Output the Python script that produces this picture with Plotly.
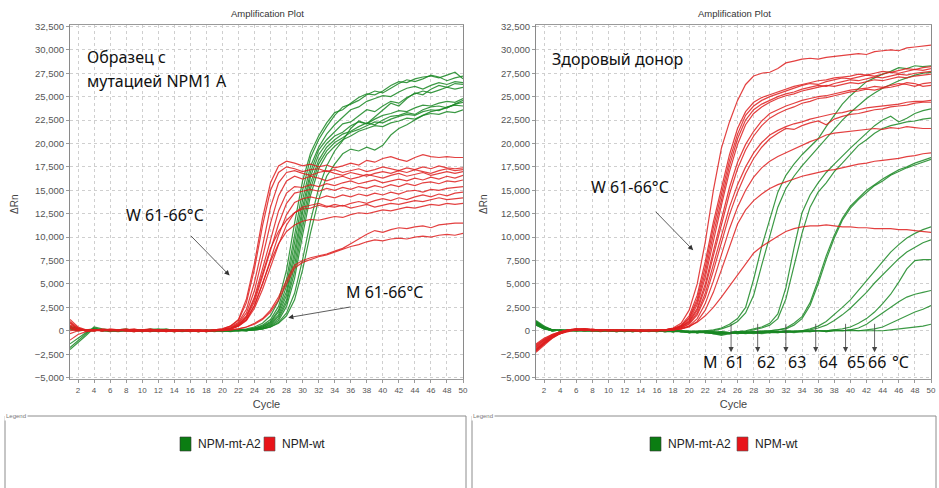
import plotly.graph_objects as go

# ---------------- data (ΔRn, thousands) ----------------
cycles = list(range(1, 51))

# Left panel: sample with NPM1 A mutation
left_mutant = [
    [-2.0, -1.3, -0.5, 0.3, 0.1, 0.0, 0.1, 0.2, 0.0, -0.1, 0.1, 0.2, 0.1, 0.0, -0.1, 0.0, -0.1, 0.0, 0.1, 0.0, 0.0, 0.1, 0.2,
     0.4, 0.8, 1.6, 3.2, 6.5, 11.5, 16.0, 19.0, 20.8, 22.2, 23.3, 23.6, 24.3, 24.9, 25.3, 25.2, 25.6, 26.2, 26.6, 26.5, 26.9, 27.1, 27.2, 27.0, 27.3, 27.6, 26.9],
    [-1.8, -1.1, -0.3, 0.4, 0.2, 0.1, 0.0, 0.1, 0.1, 0.0, 0.2, 0.1, 0.0, -0.1, 0.0, 0.1, 0.0, -0.1, 0.0, 0.1, 0.0, 0.1, 0.1,
     0.3, 0.6, 1.2, 2.6, 5.5, 10.2, 15.0, 18.5, 20.4, 21.8, 23.0, 23.9, 24.2, 24.6, 25.2, 25.6, 25.4, 25.9, 26.4, 26.8, 26.6, 26.9, 27.3, 27.1, 26.7, 27.0, 27.2],
    [-1.4, -0.8, -0.2, 0.2, 0.1, 0.0, 0.1, 0.0, -0.1, 0.1, 0.0, 0.1, 0.2, 0.0, 0.0, -0.1, 0.1, 0.0, 0.0, 0.0, 0.1, 0.0, 0.1,
     0.3, 0.5, 1.0, 2.2, 4.8, 9.2, 14.0, 17.6, 19.6, 21.0, 22.0, 22.8, 23.6, 23.9, 24.5, 24.8, 25.1, 25.0, 25.5, 25.9, 26.1, 25.8, 26.2, 26.5, 26.3, 26.6, 26.5],
    [0.4, 0.2, 0.1, 0.2, 0.0, 0.1, 0.0, 0.1, 0.0, 0.0, 0.1, 0.0, 0.1, 0.0, 0.1, 0.0, 0.0, 0.1, 0.0, -0.1, 0.0, 0.0, 0.1,
     0.2, 0.4, 0.9, 2.0, 4.2, 8.5, 13.2, 17.0, 19.3, 20.4, 21.3, 22.1, 22.3, 23.0, 23.6, 23.4, 24.0, 24.5, 24.3, 24.9, 25.3, 25.6, 25.4, 25.7, 26.0, 25.8, 26.0],
    [0.3, 0.1, 0.0, 0.1, 0.1, 0.0, -0.1, 0.0, 0.1, 0.0, 0.0, 0.1, 0.0, -0.1, 0.0, 0.1, 0.0, 0.0, -0.1, 0.0, 0.1, 0.0, 0.0,
     0.2, 0.4, 0.8, 1.7, 3.8, 7.8, 12.6, 16.5, 18.8, 20.0, 20.8, 21.2, 21.9, 22.3, 22.1, 22.6, 23.0, 23.2, 23.5, 23.4, 23.8, 24.1, 24.0, 24.3, 24.5, 24.4, 24.8],
    [0.5, 0.2, 0.0, 0.1, 0.0, 0.1, 0.1, 0.0, 0.0, -0.1, 0.1, 0.0, 0.1, 0.1, 0.0, 0.0, 0.1, -0.1, 0.0, 0.0, 0.0, 0.1, 0.0,
     0.2, 0.3, 0.7, 1.5, 3.3, 7.0, 11.8, 15.8, 18.2, 19.6, 20.4, 21.0, 21.3, 21.8, 22.2, 22.0, 22.5, 22.9, 23.0, 23.3, 23.1, 23.6, 23.9, 24.0, 23.8, 24.2, 24.4],
    [0.2, 0.1, 0.1, 0.0, 0.1, 0.0, 0.0, 0.1, 0.0, 0.1, 0.0, -0.1, 0.0, 0.1, 0.0, 0.1, 0.0, 0.0, 0.1, 0.0, -0.1, 0.0, 0.1,
     0.1, 0.3, 0.6, 1.3, 3.0, 6.3, 11.0, 15.2, 17.8, 19.2, 20.1, 20.6, 21.2, 21.5, 21.9, 22.3, 22.2, 22.6, 22.9, 23.1, 23.0, 23.4, 23.6, 23.5, 23.9, 24.1, 24.0],
    [0.3, 0.2, 0.0, 0.0, 0.1, 0.1, 0.0, 0.0, 0.1, 0.0, -0.1, 0.0, 0.0, 0.1, 0.1, 0.0, 0.0, 0.1, 0.0, 0.1, 0.0, 0.0, 0.0,
     0.1, 0.2, 0.5, 1.1, 2.6, 5.6, 10.2, 14.5, 17.3, 18.8, 19.7, 20.4, 20.8, 21.3, 21.6, 21.9, 21.8, 22.2, 22.4, 22.7, 22.6, 23.0, 23.2, 23.1, 23.4, 23.3, 23.6],
    [0.4, 0.1, 0.0, 0.1, 0.0, 0.0, 0.1, 0.1, 0.0, 0.0, 0.1, 0.0, 0.0, 0.0, 0.1, 0.0, -0.1, 0.0, 0.0, 0.1, 0.0, 0.0, 0.1,
     0.1, 0.2, 0.4, 0.8, 1.6, 3.3, 6.5, 10.5, 14.0, 16.5, 17.8, 18.9, 19.4, 19.2, 19.6, 19.3, 19.8, 20.9, 21.6, 22.0, 22.5, 23.0, 23.4, 23.6, 23.8, 24.2, 24.6],
    [0.2, 0.0, 0.1, 0.1, 0.0, -0.1, 0.0, 0.0, 0.1, 0.1, 0.0, 0.0, 0.1, 0.0, 0.0, 0.1, 0.0, 0.0, 0.1, 0.0, 0.0, 0.1, 0.0,
     0.1, 0.2, 0.4, 0.9, 1.9, 4.0, 7.6, 11.8, 15.2, 17.6, 19.2, 20.3, 21.6, 22.4, 22.1, 22.8, 23.6, 24.3, 24.0, 24.8, 25.4, 25.2, 25.8, 26.2, 26.0, 26.4, 26.3],
]

left_wild = [
    [1.2, 0.4, 0.1, 0.0, 0.2, 0.1, 0.0, 0.1, 0.2, 0.0, 0.1, 0.0, -0.1, 0.1, 0.0, 0.1, 0.0, -0.1,
     0.1, 0.2, 0.5, 1.2, 3.4, 7.2, 12.0, 15.8, 17.6, 18.1, 17.9, 17.6, 17.8, 17.5, 17.7, 17.4, 17.6, 17.9, 17.7, 18.2, 18.0, 18.4, 18.6, 18.3, 18.1, 18.5, 18.8, 18.6, 18.5, 18.6, 18.5, 18.5],
    [1.0, 0.3, 0.0, 0.1, 0.0, 0.2, 0.1, 0.0, -0.1, 0.1, 0.2, 0.0, 0.1, 0.0, 0.0, 0.1, -0.1, 0.0, 0.1,
     0.2, 0.5, 1.1, 3.0, 6.6, 11.2, 15.0, 16.9, 17.5, 17.3, 17.0,
     17.2, 17.3, 17.0, 17.2, 16.9, 17.1, 17.3, 17.0, 17.2, 17.5, 17.3, 17.1, 17.4, 17.2, 17.5, 17.3, 17.6, 17.4, 17.3, 17.4],
    [0.8, 0.2, 0.1, 0.0, 0.1, 0.0, 0.1, 0.2, 0.0, 0.0, -0.1, 0.1, 0.0, 0.1, 0.0, -0.1, 0.0, 0.1, 0.0,
     0.1, 0.4, 0.9, 2.3, 5.2, 9.0, 13.2, 15.8, 16.9, 17.1, 16.8,
     16.6, 16.9, 17.1, 16.8, 16.6, 16.9, 16.7, 16.5, 16.8, 17.0, 16.8, 17.1, 16.9, 17.2, 17.0, 16.8, 17.1, 17.3, 17.1, 17.2],
    [0.6, 0.3, 0.0, 0.1, 0.1, 0.0, 0.0, 0.1, 0.1, -0.1, 0.0, 0.1, 0.0, 0.0, 0.1, 0.0, 0.0, -0.1, 0.1,
     0.1, 0.3, 0.8, 1.9, 4.3, 7.8, 11.5, 14.4, 16.0, 16.5, 16.2,
     16.5, 16.3, 16.0, 16.3, 16.5, 16.2, 16.4, 16.7, 16.5, 16.3, 16.6, 16.8, 16.5, 16.7, 16.9, 16.6, 16.8, 17.0, 16.8, 17.0],
    [0.4, 0.1, 0.0, 0.0, 0.1, 0.1, 0.0, 0.0, 0.1, 0.0, 0.1, -0.1, 0.0, 0.1, 0.0, 0.0, 0.1, 0.0, 0.0,
     0.1, 0.3, 0.7, 1.6, 3.6, 6.6, 9.8, 12.8, 14.7, 15.4, 15.3,
     15.6, 15.4, 15.7, 15.5, 15.8, 16.0, 15.7, 15.9, 16.1, 15.8, 16.0, 16.2, 16.0, 16.3, 16.1, 16.4, 16.2, 16.5, 16.3, 16.6],
    [0.3, 0.0, 0.1, 0.1, 0.0, 0.0, 0.1, 0.0, 0.0, 0.1, 0.0, 0.0, 0.1, -0.1, 0.0, 0.1, 0.0, 0.0, 0.1,
     0.1, 0.2, 0.6, 1.4, 3.1, 5.8, 8.6, 11.4, 13.6, 14.7, 14.9,
     15.1, 14.9, 15.2, 15.0, 15.3, 15.1, 15.4, 15.2, 15.5, 15.3, 15.6, 15.4, 15.7, 15.5, 15.8, 15.9, 15.7, 16.0, 15.9, 16.1],
    [0.2, 0.1, 0.0, 0.1, 0.0, 0.1, 0.0, 0.1, 0.0, 0.0, 0.1, 0.0, -0.1, 0.0, 0.1, 0.0, 0.1, 0.0, 0.0,
     0.1, 0.2, 0.5, 1.2, 2.7, 5.0, 7.6, 10.2, 12.4, 13.7, 14.1,
     14.3, 14.1, 14.4, 14.2, 14.5, 14.3, 14.6, 14.4, 14.7, 14.5, 14.8, 14.6, 14.9, 15.0, 14.8, 15.1, 15.0, 15.2, 15.3, 15.4],
    [0.0, 0.1, 0.1, 0.0, 0.0, 0.1, 0.1, 0.0, -0.1, 0.0, 0.1, 0.1, 0.0, 0.0, 0.0, 0.1, 0.0, 0.1, 0.0,
     0.1, 0.2, 0.5, 1.1, 2.4, 4.4, 6.8, 9.2, 11.3, 12.6, 13.0,
     13.1, 13.4, 13.2, 13.5, 13.3, 13.6, 13.8, 13.6, 13.9, 14.1, 13.9, 14.2, 14.0, 14.3, 14.5, 14.3, 14.6, 14.4, 14.7, 14.8],
    [-0.3, 0.0, 0.1, 0.1, 0.0, 0.0, 0.0, 0.1, 0.1, 0.0, 0.0, 0.1, 0.0, 0.1, 0.0, 0.0, -0.1, 0.0, 0.1,
     0.1, 0.2, 0.6, 1.5, 3.4, 6.2, 8.8, 10.6, 11.8, 12.6, 13.2, 13.4, 13.6, 13.3, 13.2, 13.4, 13.1, 13.3, 13.5, 13.2, 13.4, 13.6, 13.5, 13.7, 13.9, 13.8, 14.0, 14.2, 14.0, 14.1, 14.2],
    [-1.0, -0.4, -0.1, 0.0, 0.1, 0.0, 0.1, 0.0, 0.0, 0.1, 0.0, 0.0, 0.0, 0.1, 0.0, 0.1, 0.0, 0.0, 0.0,
     0.1, 0.2, 0.5, 1.2, 2.7, 5.0, 7.4, 9.3, 10.6, 11.3, 11.7, 11.9, 11.8, 12.0, 12.2, 12.1, 12.4, 12.6, 12.5, 12.7, 12.9, 12.8, 13.0, 13.2, 13.1, 13.3, 13.5, 13.4, 13.6, 13.5, 13.6],
    [0.9, 0.2, 0.0, 0.1, 0.0, 0.1, 0.0, 0.0, 0.1, 0.0, 0.1, 0.0, 0.0, -0.1, 0.0, 0.0, 0.1, 0.0, 0.0,
     0.0, 0.1, 0.2, 0.4, 0.8, 1.3, 2.2, 3.6, 5.4, 7.0, 7.5, 7.8, 8.0, 8.2, 8.5, 8.8, 9.3, 9.8, 10.3, 10.7, 10.5, 10.8, 11.0, 10.9, 11.1, 11.2, 11.0, 11.3, 11.4, 11.5, 11.5],
    [0.5, 0.1, 0.0, 0.0, 0.1, 0.0, 0.0, 0.1, 0.0, 0.1, 0.0, 0.0, 0.1, 0.0, 0.0, 0.0, 0.1, 0.0, 0.0,
     0.0, 0.1, 0.2, 0.4, 0.7, 1.2, 2.0, 3.3, 5.0, 6.7, 7.3, 7.6, 7.9, 8.1, 8.4, 8.7, 9.0, 9.2, 9.5, 9.7, 9.6, 9.8, 9.9, 9.8, 10.0, 10.1, 10.0, 10.2, 10.3, 10.2, 10.4],
]

# Right panel: healthy donor
right_mutant = [
    [1.0, 0.4, 0.1, 0.0, 0.1, 0.0, 0.0, 0.1, 0.0, 0.0, 0.1, 0.0, -0.1, 0.0, 0.0, 0.1, 0.0, -0.1, 0.0, -0.1, 0.0, 0.0, 0.1,
     0.3, 0.7, 1.3, 2.5, 5.5, 9.0, 12.0, 14.8, 16.6, 17.8, 18.8, 19.6, 20.5, 21.8, 23.0, 24.2, 25.1, 25.8, 26.6, 27.0, 27.4, 27.7, 28.1, 28.0, 28.3, 28.2, 28.3],
    [0.8, 0.3, 0.1, 0.0, 0.0, 0.1, 0.0, 0.0, -0.1, 0.0, 0.0, 0.1, 0.0, 0.0, -0.1, 0.0, 0.0, 0.0, -0.1, 0.0, -0.1, 0.0, 0.0,
     0.2, 0.5, 1.0, 1.9, 3.8, 7.0, 10.2, 13.2, 15.2, 16.5, 17.6, 18.6, 19.6, 20.6, 21.6, 22.5, 23.3, 24.1, 24.8, 25.4, 25.9, 26.3, 26.7, 27.0, 27.3, 27.5, 27.6],
    [0.9, 0.3, 0.0, 0.1, 0.0, 0.0, 0.1, 0.0, 0.0, 0.0, -0.1, 0.0, 0.1, 0.0, 0.0, -0.1, 0.0, 0.0, -0.1, -0.1, -0.2, -0.1, -0.2, -0.1, -0.2, -0.1, 0.0,
     0.2, 0.4, 0.8, 1.8, 4.6, 8.8, 12.6, 14.5, 15.8, 16.9, 17.8, 18.7, 19.5, 20.3, 21.1, 21.9, 22.5, 22.9, 22.3, 22.7, 23.2, 23.5, 23.7],
    [0.7, 0.2, 0.1, 0.0, 0.0, 0.1, 0.0, 0.0, 0.1, 0.0, 0.0, -0.1, 0.0, 0.0, 0.1, 0.0, -0.1, 0.0, 0.0, -0.1, -0.2, -0.2, -0.1, -0.3, -0.2, -0.1, -0.1,
     0.1, 0.3, 0.6, 1.3, 3.4, 6.8, 10.4, 13.2, 14.8, 15.8, 17.0, 17.9, 18.8, 19.8, 20.4, 21.1, 21.6, 21.9, 22.1, 22.3, 22.4, 22.6, 22.7],
    [1.1, 0.5, 0.1, 0.0, 0.1, 0.0, 0.0, 0.0, 0.1, 0.0, -0.1, 0.0, 0.0, 0.1, 0.0, 0.0, -0.1, 0.0, -0.1, -0.2, -0.1, -0.2, -0.3, -0.4, -0.2, -0.1, -0.2, -0.1, -0.1, 0.0, 0.1,
     0.3, 0.8, 1.5, 3.0, 5.4, 8.0, 10.2, 12.0, 13.3, 14.2, 15.0, 15.6, 16.2, 16.7, 17.2, 17.5, 17.9, 18.2, 18.5],
    [0.6, 0.2, 0.0, 0.1, 0.0, 0.0, 0.1, 0.0, 0.0, 0.0, 0.0, 0.1, 0.0, -0.1, 0.0, 0.0, 0.0, -0.1, 0.0, -0.1, -0.2, -0.1, -0.2, -0.3, -0.3, -0.2, -0.2, -0.1, 0.0, 0.0, 0.1,
     0.2, 0.6, 1.3, 2.7, 5.0, 7.6, 9.9, 11.8, 13.1, 14.0, 14.8, 15.5, 16.0, 16.6, 17.0, 17.4, 17.7, 18.0, 18.3],
    [0.9, 0.4, 0.1, 0.0, 0.0, 0.1, 0.0, 0.0, 0.0, 0.1, 0.0, 0.0, -0.1, 0.0, 0.0, 0.0, -0.1, -0.1, 0.0, -0.2, -0.1, -0.2, -0.3, -0.2, -0.3, -0.2, -0.3, -0.2, -0.1, -0.2, -0.1, 0.0, -0.1,
     0.0, 0.2, 0.5, 1.0, 1.7, 2.5, 3.3, 4.3, 5.4, 6.4, 7.4, 8.4, 9.2, 9.9, 10.4, 10.8, 11.1],
    [0.8, 0.3, 0.0, 0.1, 0.0, 0.0, 0.0, 0.1, 0.0, 0.0, -0.1, 0.0, 0.0, 0.1, 0.0, -0.1, 0.0, -0.1, -0.1, -0.2, -0.2, -0.1, -0.3, -0.5, -0.3, -0.2, -0.2, -0.3, -0.2, -0.1, -0.2, -0.1, -0.1, 0.0, 0.1,
     0.3, 0.6, 1.1, 1.7, 2.4, 3.2, 4.1, 5.1, 6.0, 6.9, 7.7, 8.4, 8.9, 9.4, 9.7],
    [1.0, 0.4, 0.1, 0.0, 0.1, 0.0, 0.0, 0.0, 0.0, 0.1, 0.0, -0.1, 0.0, 0.0, 0.0, 0.1, 0.0, -0.1, 0.0, -0.1, -0.1, -0.2, -0.2, -0.3, -0.2, -0.3, -0.2, -0.2, -0.3, -0.2, -0.2, -0.1, -0.2, -0.1, -0.1, 0.0, 0.0,
     0.1, 0.2, 0.4, 0.8, 1.3, 2.0, 2.9, 3.9, 5.2, 6.6, 7.5, 7.6, 7.6],
    [0.7, 0.3, 0.1, 0.0, 0.0, 0.0, 0.1, 0.0, 0.0, 0.0, 0.0, 0.1, 0.0, -0.1, 0.0, 0.0, -0.1, 0.0, -0.1, -0.1, -0.2, -0.1, -0.2, -0.2, -0.3, -0.2, -0.1, -0.2, -0.2, -0.1, -0.1, -0.2, -0.1, 0.0, -0.1, 0.0, 0.0, 0.1, 0.0,
     0.1, 0.3, 0.7, 1.3, 1.9, 2.5, 3.1, 3.6, 3.9, 4.1, 4.3],
    [0.9, 0.3, 0.0, 0.1, 0.0, 0.0, 0.0, 0.0, 0.1, 0.0, 0.0, 0.0, -0.1, 0.0, 0.1, 0.0, 0.0, -0.1, 0.0, -0.2, -0.1, -0.2, -0.2, -0.1, -0.2, -0.3, -0.2, -0.2, -0.1, -0.2, -0.1, -0.1, 0.0, -0.1, 0.0, 0.0, -0.1, 0.0, 0.0, 0.1, 0.0, 0.1, 0.2,
     0.4, 0.8, 1.2, 1.6, 2.0, 2.3, 2.7],
    [0.6, 0.2, 0.1, 0.0, 0.0, 0.1, 0.0, 0.0, 0.0, 0.0, 0.1, 0.0, 0.0, -0.1, 0.0, 0.0, 0.0, 0.0, -0.1, -0.1, -0.2, -0.1, -0.1, -0.2, -0.2, -0.1, -0.2, -0.1, -0.2, -0.1, -0.1, 0.0, -0.1, -0.1, 0.0, 0.0, -0.1, 0.0, 0.0, 0.0, 0.0, 0.0, 0.0,
     0.0, 0.1, 0.2, 0.3, 0.4, 0.5, 0.7],
]

right_wild = [
    [-1.5, -0.9, -0.4, -0.1, 0.1, 0.2, 0.1, 0.0, 0.1, 0.0, 0.1, 0.0, 0.0, 0.1, 0.0, 0.0,
     0.1, 0.3, 0.8, 2.2, 5.0, 9.5, 15.0, 19.5, 22.3, 24.6, 26.3, 27.2, 27.5, 27.6, 28.0, 28.6, 28.8, 29.0, 29.1, 29.0, 29.2, 29.3, 29.4, 29.5, 29.6, 29.5, 29.8, 29.9, 30.0, 29.9, 30.2, 30.3, 30.4, 30.5],
    [-2.0, -1.3, -0.7, -0.3, 0.0, 0.2, 0.2, 0.1, 0.0, 0.1, 0.0, 0.1, 0.0, -0.1, 0.0, 0.1,
     0.1, 0.2, 0.6, 1.6, 3.8, 7.4, 11.6, 15.2, 18.8, 21.6, 23.4, 24.4, 24.9, 25.2, 25.5, 25.8, 26.1, 26.3, 26.5, 26.7, 26.8, 27.0, 27.1, 27.2, 27.4, 27.3, 27.5, 27.7, 27.6, 27.8, 28.0, 27.9, 28.1, 28.2],
    [-2.2, -1.4, -0.8, -0.3, 0.0, 0.1, 0.2, 0.1, 0.1, 0.0, 0.0, 0.1, 0.1, 0.0, 0.0, 0.0,
     0.1, 0.2, 0.5, 1.4, 3.4, 6.8, 11.0, 14.6, 18.2, 21.0, 23.0, 24.0, 24.6, 25.0, 25.3, 25.6, 25.9, 26.2, 26.4, 26.3, 26.6, 26.8, 27.0, 26.9, 27.1, 27.3, 27.2, 27.4, 27.6, 27.5, 27.7, 27.9, 27.8, 28.0],
    [-1.8, -1.1, -0.6, -0.2, 0.1, 0.2, 0.1, 0.0, 0.0, 0.1, 0.1, 0.0, 0.0, 0.1, 0.0, 0.0,
     0.1, 0.2, 0.5, 1.3, 3.1, 6.2, 10.3, 14.0, 17.6, 20.5, 22.5, 23.6, 24.2, 24.6, 25.0, 25.3, 25.5, 25.8, 26.0, 26.2, 26.1, 26.4, 26.6, 26.8, 26.7, 26.9, 27.1, 27.0, 27.2, 27.4, 27.3, 27.5, 27.6, 27.7],
    [-2.1, -1.3, -0.7, -0.3, -0.1, 0.1, 0.2, 0.1, 0.0, 0.0, 0.1, 0.0, 0.1, 0.0, 0.0, 0.1,
     0.1, 0.2, 0.4, 1.1, 2.8, 5.7, 9.6, 13.4, 17.0, 19.9, 22.0, 23.2, 23.9, 24.4, 24.8, 25.1, 25.3, 25.6, 25.8, 26.0, 26.2, 26.1, 26.3, 26.5, 26.4, 26.6, 26.8, 26.7, 26.9, 27.1, 27.0, 27.2, 27.3, 27.4],
    [-1.9, -1.2, -0.6, -0.2, 0.0, 0.1, 0.1, 0.2, 0.0, 0.1, 0.0, 0.0, 0.1, 0.0, 0.1, 0.0,
     0.1, 0.2, 0.4, 1.0, 2.4, 5.0, 8.5, 12.0, 15.3, 18.0, 19.9, 21.3, 22.4, 23.2, 23.6, 24.0, 24.3, 24.6, 24.8, 25.0, 25.1, 25.3, 25.5, 25.7, 25.8, 25.9, 26.1, 26.0, 26.2, 26.4, 26.3, 26.1, 26.4, 26.5],
    [-1.6, -1.0, -0.5, -0.2, 0.0, 0.1, 0.2, 0.1, 0.1, 0.0, 0.0, 0.1, 0.0, 0.0, 0.1, 0.0,
     0.1, 0.2, 0.4, 0.9, 2.2, 4.6, 8.0, 11.4, 14.6, 17.3, 19.3, 20.8, 21.9, 22.7, 23.2, 23.6, 23.9, 24.3, 24.5, 24.8, 24.9, 25.1, 25.3, 25.5, 25.6, 25.8, 25.7, 25.9, 26.0, 26.2, 26.5, 26.4, 26.1, 26.2],
    [-2.0, -1.2, -0.6, -0.2, 0.0, 0.2, 0.1, 0.0, 0.1, 0.1, 0.0, 0.0, 0.0, 0.1, 0.0, 0.0,
     0.1, 0.1, 0.3, 0.8, 1.9, 4.0, 7.0, 10.2, 13.2, 15.6, 17.5, 19.0, 20.1, 20.9, 21.4, 21.8, 22.1, 22.3, 22.6, 22.8, 23.0, 23.2, 23.3, 23.5, 23.6, 23.8, 23.9, 24.0, 24.1, 24.2, 24.4, 24.5, 24.5, 24.6],
    [-1.7, -1.0, -0.5, -0.1, 0.1, 0.1, 0.0, 0.1, 0.0, 0.0, 0.1, 0.1, 0.0, 0.0, 0.0, 0.1,
     0.1, 0.1, 0.3, 0.7, 1.7, 3.6, 6.4, 9.5, 12.4, 14.8, 16.8, 18.4, 19.6, 20.5, 21.1, 21.6, 21.5, 21.9, 22.2, 22.4, 22.0, 22.6, 22.9, 23.1, 23.2, 23.4, 23.6, 23.7, 23.9, 24.0, 24.1, 24.3, 24.4, 24.4],
    [-2.3, -1.5, -0.8, -0.3, 0.0, 0.1, 0.2, 0.1, 0.0, 0.1, 0.0, 0.1, 0.0, 0.0, 0.1, 0.0,
     0.0, 0.1, 0.2, 0.5, 1.3, 2.9, 5.3, 8.1, 10.9, 13.2, 15.0, 16.4, 17.4, 18.1, 18.6, 19.0, 19.4, 19.8, 20.2, 20.5, 20.9, 21.1, 21.2, 21.3, 21.4, 21.5, 21.6, 21.5, 21.7, 21.6, 21.8, 21.7, 21.6, 21.6],
    [-1.4, -0.8, -0.4, -0.1, 0.1, 0.0, 0.1, 0.0, 0.1, 0.0, 0.0, 0.1, 0.1, 0.0, 0.0, 0.0,
     0.0, 0.1, 0.2, 0.4, 1.0, 2.2, 4.1, 6.5, 9.0, 11.4, 12.9, 13.9, 14.6, 15.2, 15.6, 15.9, 16.2, 16.5, 16.7, 16.9, 17.1, 17.2, 17.4, 17.6, 17.8, 17.9, 18.1, 18.2, 18.3, 18.4, 18.6, 18.7, 18.9, 19.0],
    [-2.1, -1.4, -0.7, -0.3, 0.0, 0.1, 0.1, 0.0, 0.0, 0.1, 0.0, 0.0, 0.1, 0.0, 0.0, 0.1,
     0.0, 0.1, 0.2, 0.5, 0.9, 1.6, 2.5, 3.6, 4.8, 6.0, 7.2, 8.3, 9.0, 9.6, 10.1, 10.6, 10.9, 11.1, 11.2, 11.2, 11.3, 11.2, 11.1, 11.1, 11.0, 11.0, 10.9, 10.9, 10.9, 10.8, 10.8, 10.7, 10.6, 10.5],
]

x_ticks = list(range(2, 51, 2))
y_ticks = list(range(-5000, 32501, 2500))
series_names = ["NPM-mt-A2", "NPM-wt"]

for grp in (left_mutant, left_wild, right_mutant, right_wild):
    for row in grp:
        assert len(row) == 50, len(row)

# ---------------- styling ----------------
W, H = 939, 488
GREEN = "rgba(25,135,35,0.85)"
RED = "rgba(222,30,30,0.85)"
LEG_GREEN = "#0b7d12"
LEG_RED = "#e8141a"
TXT_FONT = "Noto Sans, Open Sans, sans-serif"
AX_FONT = "Liberation Sans, Arial, sans-serif"
NARROW = "Liberation Sans Narrow, Liberation Sans, Arial, sans-serif"


def px(x):
    return x / W


def py(y):
    return 1 - y / H


fig = go.Figure()


def add_group(curves, color, xa, ya):
    for row in curves:
        fig.add_trace(go.Scatter(
            x=cycles, y=[v * 1000 for v in row], mode="lines",
            line=dict(color=color, width=1.2),
            xaxis=xa, yaxis=ya, showlegend=False, hoverinfo="skip"))


add_group(left_mutant, GREEN, "x", "y")
add_group(left_wild, RED, "x", "y")
add_group(right_mutant, GREEN, "x2", "y2")
add_group(right_wild, RED, "x2", "y2")

xaxis_common = dict(
    range=[1, 50], tickmode="array", tickvals=x_ticks,
    showgrid=True, gridcolor="#cfcfcf", griddash="dot", gridwidth=1,
    showline=True, linecolor="#9a9a9a", linewidth=1, mirror=True,
    ticks="outside", ticklen=3, tickcolor="#9a9a9a",
    tickfont=dict(size=8, color="#555", family=AX_FONT),
    zeroline=False, automargin=False,
    title=dict(text="Cycle", font=dict(size=11, color="#444", family=AX_FONT), standoff=6),
)
yaxis_common = dict(
    range=[-5150, 32650], tickmode="array", tickvals=y_ticks, tickformat=",",
    showgrid=True, gridcolor="#cfcfcf", griddash="dot", gridwidth=1,
    showline=True, linecolor="#8a8a8a", linewidth=1, mirror=True,
    ticks="outside", ticklen=3, tickcolor="#9a9a9a",
    tickfont=dict(size=9.5, color="#555", family=AX_FONT),
    zeroline=False, automargin=False,
    domain=[py(379), py(25)],
)

fig.update_layout(
    width=W, height=H, margin=dict(l=0, r=0, t=0, b=0),
    paper_bgcolor="white", plot_bgcolor="white", showlegend=False,
    xaxis=dict(xaxis_common, domain=[px(70), px(463)], anchor="y"),
    yaxis=dict(yaxis_common, anchor="x"),
    xaxis2=dict(xaxis_common, domain=[px(536), px(931)], anchor="y2"),
    yaxis2=dict(yaxis_common, anchor="x2"),
)

ann = []


def text(x, y, s, size, family=TXT_FONT, color="#111", xanchor="center", angle=0, bg=None):
    d = dict(x=px(x), y=py(y), xref="paper", yref="paper", text=s, showarrow=False,
             font=dict(size=size, family=family, color=color), xanchor=xanchor, yanchor="middle",
             textangle=angle)
    if bg:
        d["bgcolor"] = bg
    ann.append(d)


# panel titles and axis titles
for cx, yx in ((267, 14), (734, 14)):
    text(cx, yx, "Amplification Plot", 9.5, AX_FONT, "#333")
text(14, 205, "ΔRn", 10, AX_FONT, "#444", angle=-90)
text(483, 205, "ΔRn", 10, AX_FONT, "#444", angle=-90)

# panel captions
text(85, 57, "Образец с", 16, xanchor="left")
text(85, 81, "мутацией NPM1 A", 16, xanchor="left")
text(550, 59, "Здоровый донор", 16, xanchor="left")
text(124, 215, "W 61-66°C", 16, xanchor="left")
text(344, 292, "M 61-66°C", 16, xanchor="left")
text(589, 187, "W 61-66°C", 16, xanchor="left")

# temperature labels under right panel
for xc, lab in ((710, "M"), (735, "61"), (766, "62"), (797, "63"), (828, "64"), (856, "65"), (877, "66"), (900, "°C")):
    text(xc, 362, lab, 16)


def arrow(xref, yref, xc, yv, ax, ay, color="#333"):
    ann.append(dict(x=xc, y=yv, xref=xref, yref=yref, ax=ax, ay=ay, showarrow=True,
                    arrowhead=2, arrowsize=1.3, arrowwidth=0.8, arrowcolor=color, text=""))


arrow("x", "y", 20.9, 5900, -40, -41)
arrow("x", "y", 28.2, 1400, 64, -11)
arrow("x2", "y2", 20.5, 8600, -39, -40)
for cyc in (25.2, 28.5, 32.0, 35.7, 39.4, 43.0):
    arrow("x2", "y2", cyc, -2300, 0, -30, "#444")

# legend boxes
shapes = []
for x0, x1 in ((5, 466), (472, 936)):
    shapes.append(dict(type="rect", xref="paper", yref="paper", x0=px(x0), x1=px(x1), y0=-0.05, y1=py(416),
                       line=dict(color="#8c8c8c", width=1), fillcolor="rgba(0,0,0,0)"))
    text(x0 + 11, 416, "Legend", 6, AX_FONT, "#777", bg="white")

for gx, rx in ((180, 264), (650, 737)):
    shapes.append(dict(type="rect", xref="paper", yref="paper", x0=px(gx), x1=px(gx + 11), y0=py(451), y1=py(437),
                       line=dict(color="#333", width=0.6), fillcolor=LEG_GREEN))
    shapes.append(dict(type="rect", xref="paper", yref="paper", x0=px(rx), x1=px(rx + 11), y0=py(451), y1=py(437),
                       line=dict(color="#555", width=0.6), fillcolor=LEG_RED))
    text(gx + 16, 444, series_names[0], 12, NARROW, "#222", xanchor="left")
    text(rx + 16, 444, series_names[1], 12, NARROW, "#222", xanchor="left")

fig.update_layout(annotations=ann, shapes=shapes)
fig.write_html("out.html", config={"displayModeBar": False},
               post_script="document.body.style.margin='0px';document.body.style.overflow='hidden';")
